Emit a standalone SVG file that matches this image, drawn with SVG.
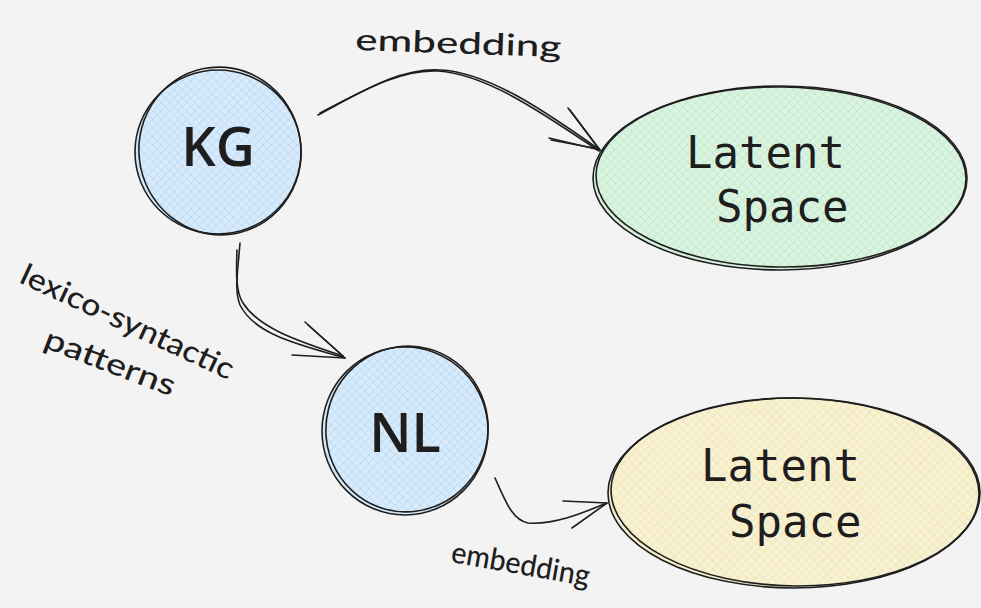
<svg xmlns="http://www.w3.org/2000/svg" width="981" height="608" viewBox="0 0 981 608">
  <defs>
    <pattern id="hatch-blue" width="6" height="6" patternUnits="userSpaceOnUse" patternTransform="rotate(45)">
      <rect width="6" height="6" fill="#d9ebfa"/>
      <path d="M0 0V6M0 0H6" stroke="#b9dcf7" stroke-width="1.6"/>
    </pattern>
    <pattern id="hatch-green" width="6" height="6" patternUnits="userSpaceOnUse" patternTransform="rotate(45)">
      <rect width="6" height="6" fill="#dcf3e2"/>
      <path d="M0 0V6M0 0H6" stroke="#bdebc8" stroke-width="1.6"/>
    </pattern>
    <pattern id="hatch-yellow" width="6" height="6" patternUnits="userSpaceOnUse" patternTransform="rotate(45)">
      <rect width="6" height="6" fill="#f7f1d6"/>
      <path d="M0 0V6M0 0H6" stroke="#f2e6ad" stroke-width="1.6"/>
    </pattern>
  </defs>
  <style>
    .sketch { fill: none; stroke: #1e1e1e; stroke-width: 1.6; stroke-linecap: round; stroke-linejoin: round; }
    .label { font-family: "Open Sans", "Liberation Sans", sans-serif; font-size: 54px; font-weight: 600; fill: #1e1e1e; text-anchor: middle; }
    .mono { font-family: "DejaVu Sans Mono", "Liberation Mono", monospace; font-size: 44px; fill: #1e1e1e; }
    .hand { font-family: "Lato", "Open Sans", sans-serif; font-size: 30px; font-weight: 500; fill: #1e1e1e; }
  </style>

  <rect width="981" height="608" fill="#f3f3f3"/>

  <!-- knowledge graph node -->
  <g id="node-kg">
    <ellipse cx="218" cy="152" rx="82" ry="82" fill="url(#hatch-blue)"/>
    <ellipse class="sketch" cx="218" cy="152" rx="83" ry="82"/>
    <ellipse class="sketch" cx="220" cy="151" rx="81" ry="84" transform="rotate(-12 220 151)"/>
    <text class="label" x="218" y="166">KG</text>
  </g>

  <!-- natural language node -->
  <g id="node-nl">
    <ellipse cx="405" cy="431" rx="82" ry="83" fill="url(#hatch-blue)"/>
    <ellipse class="sketch" cx="405" cy="431" rx="83" ry="84"/>
    <ellipse class="sketch" cx="407" cy="429" rx="81" ry="83" transform="rotate(15 407 429)"/>
    <text class="label" x="405" y="452">NL</text>
  </g>

  <!-- latent space reached from KG -->
  <g id="node-latent-kg">
    <ellipse cx="780" cy="178" rx="186" ry="91" fill="url(#hatch-green)"/>
    <ellipse class="sketch" cx="780" cy="178" rx="187" ry="92"/>
    <ellipse class="sketch" cx="781" cy="177" rx="185" ry="90" transform="rotate(0.6 781 177)"/>
    <text class="mono" x="686" y="168">Latent</text>
    <text class="mono" x="716" y="222">Space</text>
  </g>

  <!-- latent space reached from NL -->
  <g id="node-latent-nl">
    <ellipse cx="794" cy="493" rx="185" ry="95" fill="url(#hatch-yellow)"/>
    <ellipse class="sketch" cx="794" cy="493" rx="186" ry="95"/>
    <ellipse class="sketch" cx="795" cy="492" rx="184" ry="94" transform="rotate(0.8 795 492)"/>
    <text class="mono" x="701" y="481">Latent</text>
    <text class="mono" x="729" y="537">Space</text>
  </g>

  <!-- connectors -->
  <g id="connectors">
    <!-- KG to green latent space -->
    <path class="sketch" d="M318 115 C365 90 400 68 440 70 C490 72 550 115 600 150"/>
    <path class="sketch" d="M320 113 C366 89 402 69 438 71 C488 74 548 117 599 151"/>
    <path class="sketch" d="M568 108 L600 150 L549 138"/>
    <path class="sketch" d="M570 110 L599 149 L551 140"/>

    <!-- KG to NL -->
    <path class="sketch" d="M240 243 C238 270 234 290 240 305 C255 335 300 345 345 358"/>
    <path class="sketch" d="M237 250 C236 275 236 292 243 303 C260 330 305 343 343 356"/>
    <path class="sketch" d="M305 322 L345 358 L292 355"/>
    <path class="sketch" d="M308 325 L343 356"/>

    <!-- NL to yellow latent space -->
    <path class="sketch" d="M495 478 C505 500 512 520 528 523 C555 525 585 512 607 503"/>
    <path class="sketch" d="M563 501 L607 503 L572 528"/>
  </g>

  <!-- edge labels -->
  <g id="edge-labels">
    <text class="hand" x="355" y="50" textLength="206" lengthAdjust="spacingAndGlyphs" transform="rotate(2 355 50)">embedding</text>
    <text class="hand" x="450" y="562" textLength="140" lengthAdjust="spacingAndGlyphs" transform="rotate(10 450 562)">embedding</text>
    <text class="hand" x="18" y="282" textLength="232" lengthAdjust="spacingAndGlyphs" transform="rotate(25 18 282)">lexico-syntactic</text>
    <text class="hand" x="42" y="347" textLength="138" lengthAdjust="spacingAndGlyphs" transform="rotate(21 42 347)">patterns</text>
  </g>
</svg>
